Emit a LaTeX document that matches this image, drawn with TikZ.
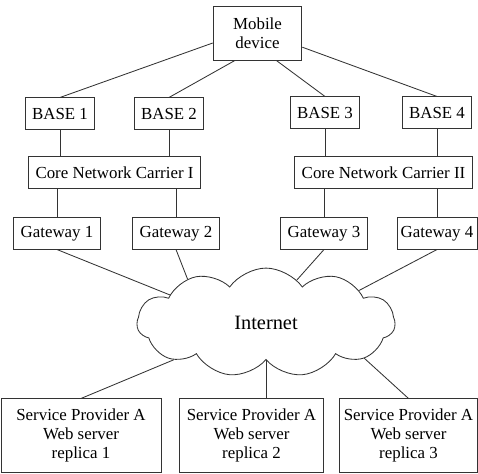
\documentclass[tikz,border=0pt]{standalone}
\usepackage{fontspec}
\setmainfont{Liberation Serif}
\usepackage{tikz}
\usetikzlibrary{shapes.symbols}
\tikzset{
  box/.style={rectangle, draw=black!80, line width=0.6pt, minimum height=0.78cm, inner sep=1pt, align=center, font=\fontsize{12}{13.8}\selectfont},
  mobbox/.style={box, minimum width=2.22cm, minimum height=1.33cm},
  basebox/.style={box, minimum width=1.73cm},
  gwbox/.style={box, minimum width=2.18cm},
  srvbox/.style={box, minimum height=1.83cm},
  netcloud/.style={cloud, cloud puffs=11, cloud puff arc=110, aspect=2.37, draw=black!80, line width=0.6pt, minimum width=6.45cm, minimum height=2.72cm, inner sep=0pt, font=\fontsize{14.5}{16}\selectfont},
  link/.style={draw=black!80, line width=0.6pt},
}

\begin{document}
\begin{tikzpicture}[x=0.025cm, y=-0.025cm]
\useasboundingbox (0,0) rectangle (478,473);
\node[mobbox] (mob) at (257.5,33.5) {Mobile\\device};
\node[basebox] (b1) at (60,113.5) {BASE 1};
\node[basebox] (b2) at (169,113.5) {BASE 2};
\node[basebox] (b3) at (325,112.5) {BASE 3};
\node[basebox] (b4) at (437,112.5) {BASE 4};
\node[box, minimum width=4.28cm] (c1) at (114.5,172.5) {Core Network Carrier I};
\node[box, minimum width=4.43cm] (c2) at (383.5,172.5) {Core Network Carrier II};
\node[gwbox] (g1) at (57,233.5) {Gateway 1};
\node[gwbox] (g2) at (176,233.5) {Gateway 2};
\node[gwbox] (g3) at (324,233.5) {Gateway 3};
\node[gwbox, minimum width=2.0cm] (g4) at (437,233.5) {Gateway 4};
\node[netcloud] (inet) at (266,322.5) {Internet};
\node[srvbox, minimum width=4.0cm] (s1) at (81,435.5) {Service Provider A\\Web server\\replica 1};
\node[srvbox, minimum width=3.58cm] (s2) at (251.5,435.5) {Service Provider A\\Web server\\replica 2};
\node[srvbox, minimum width=3.43cm] (s3) at (408.5,435.5) {Service Provider A\\Web server\\replica 3};
% mobile to base stations
\draw[link] (mob.192) -- (b1.north);
\draw[link] (mob.230) -- (b2.north);
\draw[link] (mob.305) -- (b3.north);
\draw[link] (mob.343) -- (b4.north);
% bases, carriers, gateways
\foreach \b/\c/\g in {b1/c1/g1, b2/c1/g2, b3/c2/g3, b4/c2/g4}{
  \draw[link] (\b.south) -- (\b.south |- \c.north);
  \draw[link] (\c.south -| \g) -- (\g.north);
}
% into the internet
\draw[link] (g1.south) -- (inet.164);
\draw[link] (g2.south) -- (inet.151);
\draw[link] (g3.south) -- (inet.54);
\draw[link] (g4.south) -- (inet.19);
\draw[link] (inet.202) -- (s1.north);
\draw[link] (inet.south) -- (inet.south |- s2.north);
\draw[link] (inet.340) -- (s3.north);
\end{tikzpicture}
\end{document}
